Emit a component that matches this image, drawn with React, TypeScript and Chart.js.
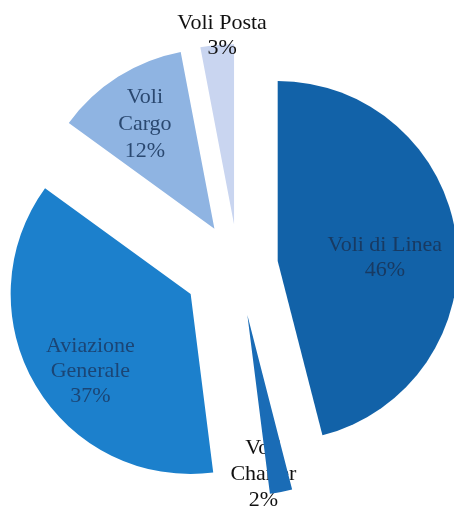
import React, { useEffect, useRef } from "react";
import { Chart, registerables } from "chart.js";

Chart.register(...registerables);

const categories = ["Voli di Linea", "Voli Charter", "Aviazione Generale", "Voli Cargo", "Voli Posta"];
const labelLines = [["Voli di Linea"], ["Voli", "Charter"], ["Aviazione", "Generale"], ["Voli", "Cargo"], ["Voli Posta"]];
const shares = [46, 2, 37, 12, 3];

const sliceColors = ["#1262a8", "#1a6cb6", "#1c80cc", "#8fb4e2", "#c9d5f0"];
// explode distance of each slice along its bisector (px)
const explode = [40, 50, 55, 44, 42];
const labelRadiusFactor = [0.6, 0.89, 0.66, 0.70, 1.06];
const labelNudgeX = [0, -14, 2, -2, 6];
const labelNudgeY = [10, 2, 17, 2, 1];
const labelLineHeight = [25, 26, 25, 27, 25];
const labelColors = ["#183a62", "#111111", "#1b4575", "#2a4870", "#111111"];

function arcGeom(arc: any) {
  return arc.getProps(["x", "y", "startAngle", "endAngle", "outerRadius"], true);
}

function drawLabels(chart: any, filter: (i: number) => boolean) {
  const ctx = chart.ctx;
  const meta = chart.getDatasetMeta(0);
  ctx.save();
  ctx.textAlign = "center";
  ctx.textBaseline = "middle";
  ctx.font = '22px "Liberation Serif", "DejaVu Serif", serif';
  meta.data.forEach((arc: any, i: number) => {
    if (!filter(i)) return;
    const { x, y, startAngle, endAngle, outerRadius } = arcGeom(arc);
    const mid = (startAngle + endAngle) / 2;
    const d = explode[i] + labelRadiusFactor[i] * outerRadius;
    const cx = x + Math.cos(mid) * d + labelNudgeX[i];
    const cy = y + Math.sin(mid) * d + labelNudgeY[i];
    const lines = [...labelLines[i], shares[i] + "%"];
    const lh = labelLineHeight[i];
    const top = cy - ((lines.length - 1) * lh) / 2;
    ctx.fillStyle = labelColors[i];
    lines.forEach((t: string, k: number) => ctx.fillText(t, cx, top + k * lh));
  });
  ctx.restore();
}

const explodePlugin = {
  id: "explodedPie",
  beforeDatasetsDraw(chart: any) {
    drawLabels(chart, (i: number) => i === 1);
  },
  beforeDatasetDraw(chart: any, args: any) {
    if (args.index !== 0) return;
    const ctx = chart.ctx;
    const meta = chart.getDatasetMeta(0);
    meta.data.forEach((arc: any, i: number) => {
      const { startAngle, endAngle } = arcGeom(arc);
      const mid = (startAngle + endAngle) / 2;
      ctx.save();
      ctx.translate(Math.cos(mid) * explode[i], Math.sin(mid) * explode[i]);
      arc.draw(ctx, chart.chartArea);
      ctx.restore();
    });
    return false;
  },
  afterDatasetsDraw(chart: any) {
    drawLabels(chart, (i: number) => i !== 1);
  },
};

export default function App() {
  const ref = useRef<HTMLCanvasElement | null>(null);
  useEffect(() => {
    if (!ref.current) return;
    const chart = new Chart(ref.current, {
      type: "pie",
      data: {
        labels: categories,
        datasets: [
          {
            data: shares,
            backgroundColor: sliceColors,
            borderWidth: 0,
          },
        ],
      },
      options: {
        animation: false,
        responsive: true,
        maintainAspectRatio: false,
        radius: 180,
        layout: { padding: { left: 22, top: 21, right: 0, bottom: 0 } },
        plugins: {
          legend: { display: false },
          tooltip: { enabled: false },
        },
      } as any,
      plugins: [explodePlugin],
    });
    return () => chart.destroy();
  }, []);
  return (
    <div style={{ position: "absolute", left: 0, top: 0, width: 454, height: 511, background: "#ffffff" }}>
      <canvas ref={ref} />
    </div>
  );
}
